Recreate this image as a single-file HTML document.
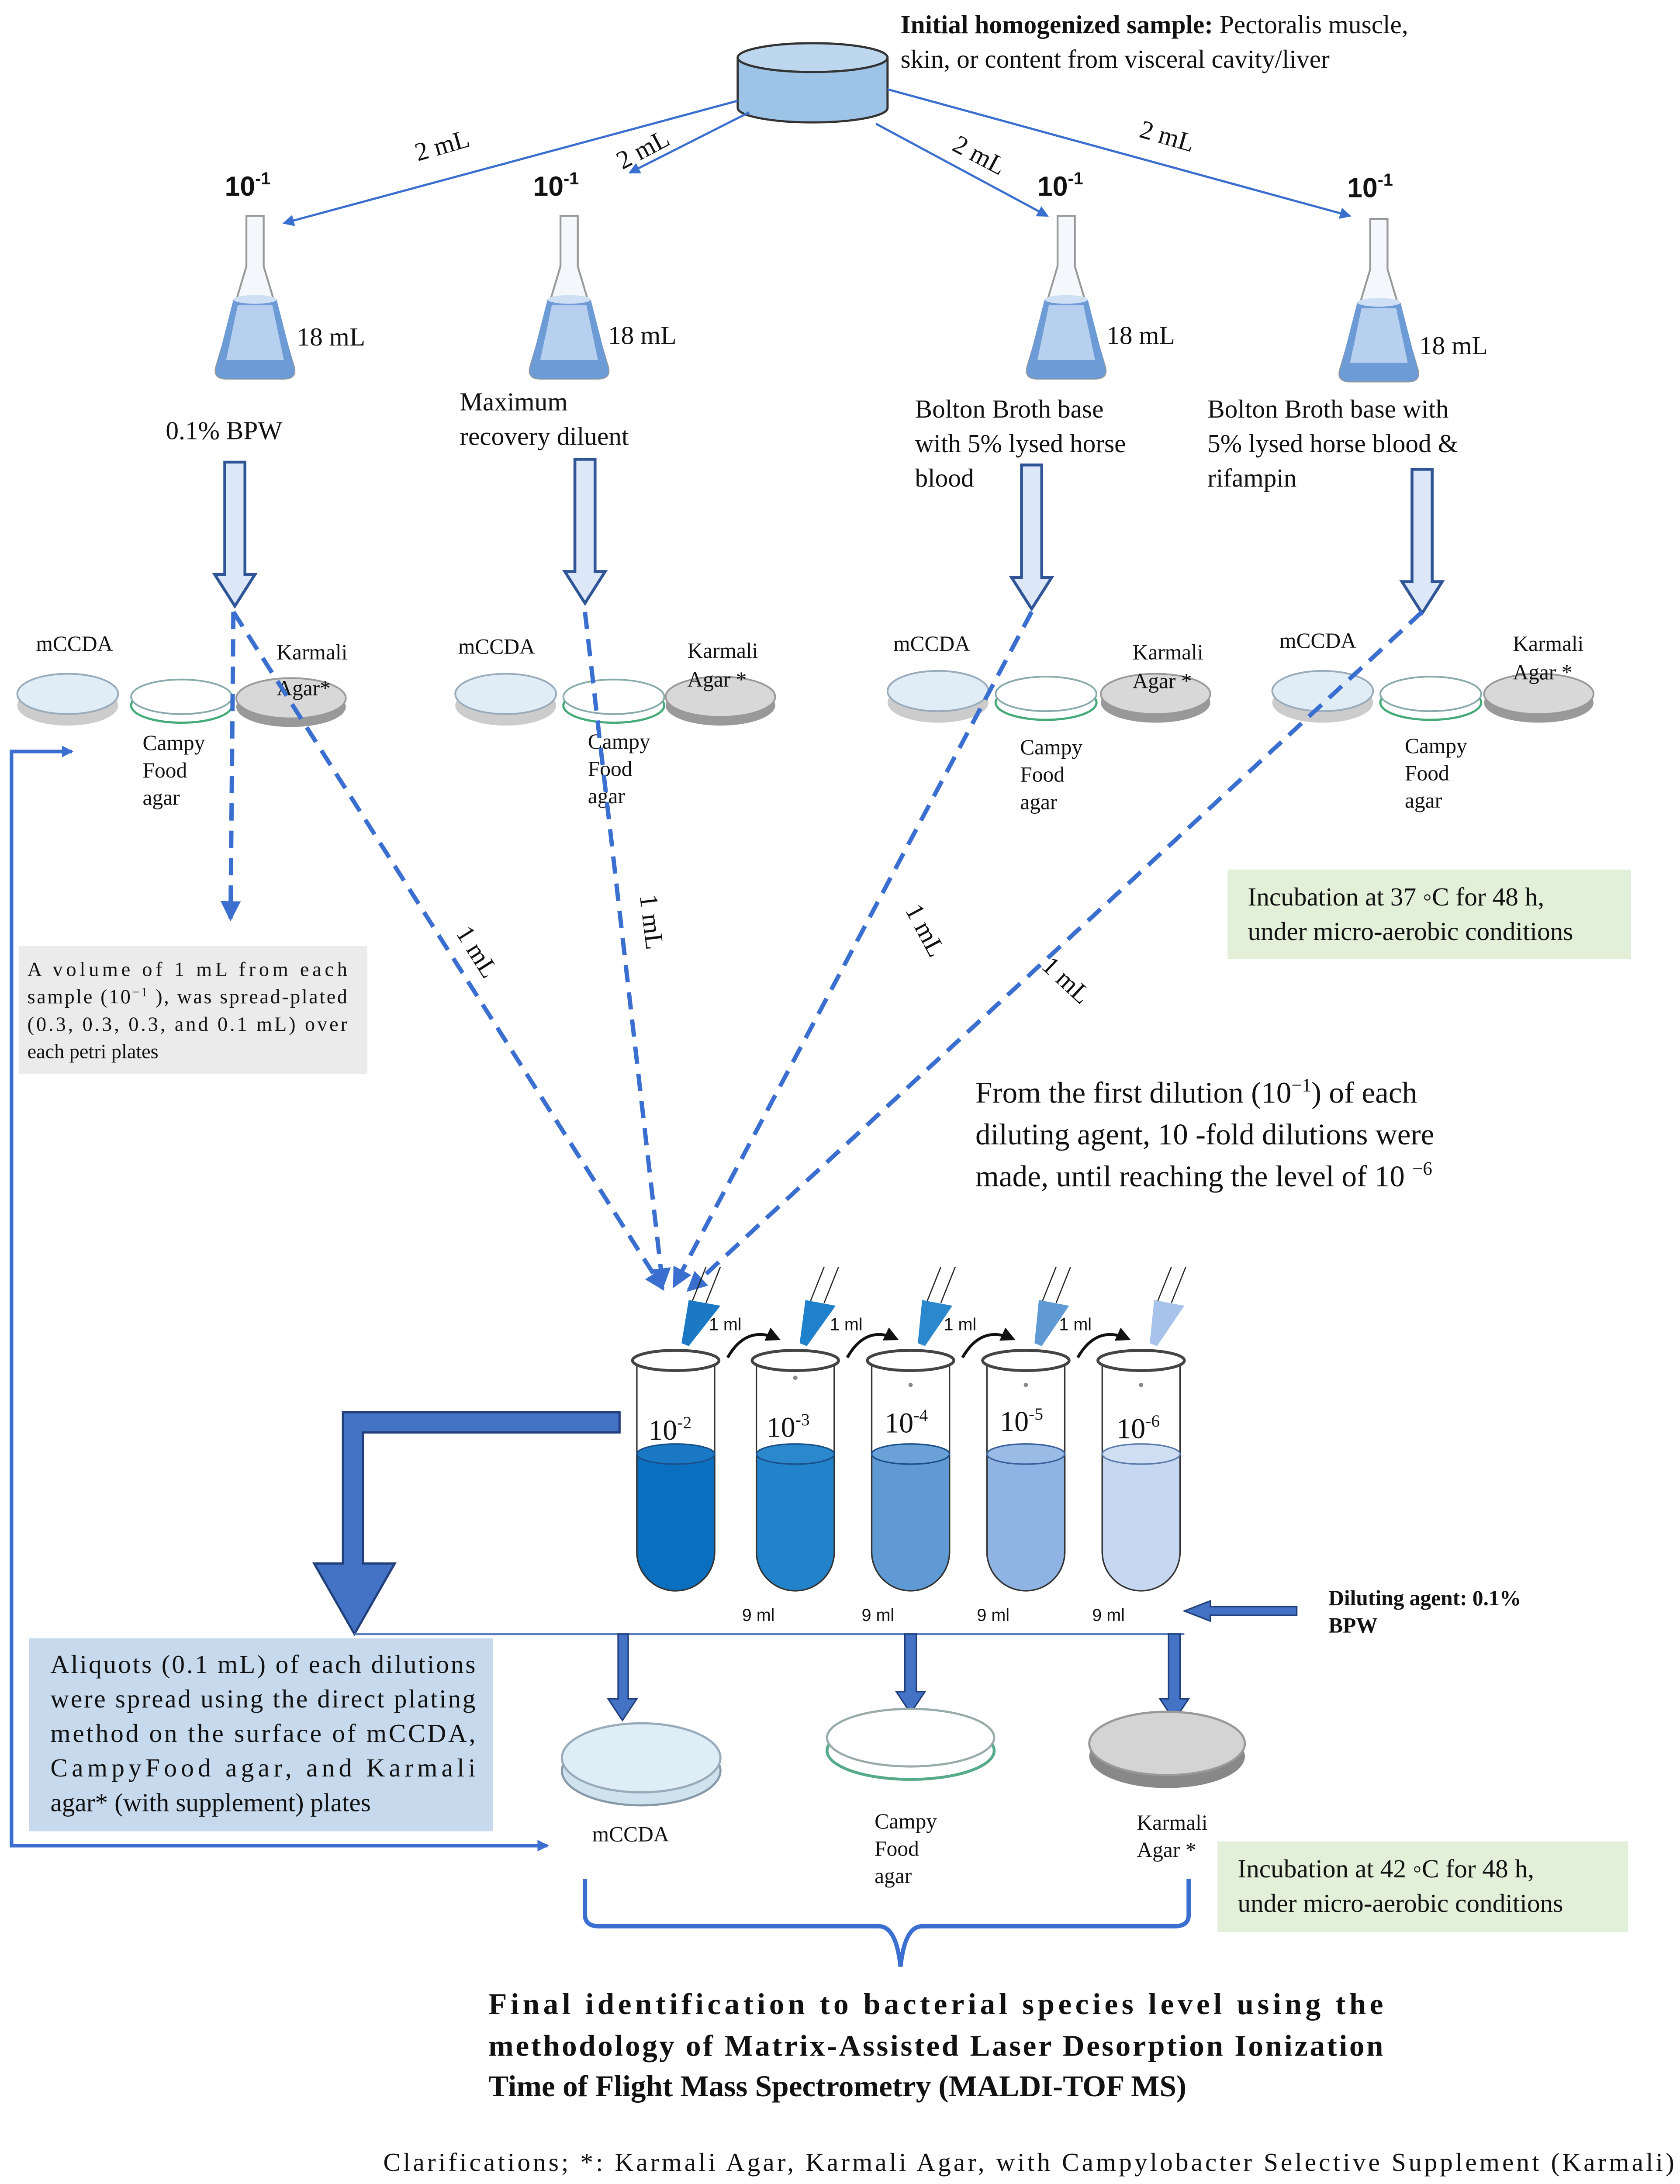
<!DOCTYPE html>
<html><head><meta charset="utf-8"><style>
html,body{margin:0;padding:0;background:#fff;width:3846px;height:5168px;overflow:hidden}
svg{display:block;position:absolute;left:0;top:0;width:3846px;height:5168px}
text{font-family:"Liberation Serif",serif;fill:#111}
.s{font-family:"Liberation Sans",sans-serif}
</style></head><body>
<svg width="3846" height="5168" viewBox="0 0 1166 1568" preserveAspectRatio="none" xmlns="http://www.w3.org/2000/svg">
<defs>
<marker id="ah" markerWidth="8" markerHeight="8" refX="7" refY="4" orient="auto" markerUnits="userSpaceOnUse"><path d="M0,0 L8,4 L0,8 z" fill="#3a6fd0"/></marker>
<marker id="ahb" markerWidth="14" markerHeight="14" refX="12" refY="7" orient="auto" markerUnits="userSpaceOnUse"><path d="M0,0 L14,7 L0,14 z" fill="#3a6fd0"/></marker>
<marker id="ahk" markerWidth="10" markerHeight="10" refX="8" refY="5" orient="auto" markerUnits="userSpaceOnUse"><path d="M0,0 L10,5 L0,10 z" fill="#111"/></marker>
<g id="flask">
<path d="M-6,0 L6,0 L6,35 L27,105 Q29,113 20,113 L-20,113 Q-29,113 -27,105 L-6,35 Z" fill="#f4f7fb" stroke="#999" stroke-width="1.3"/>
<path d="M-15,58 L15,58 L27,105 Q29,113 20,113 L-20,113 Q-29,113 -27,105 Z" fill="#6d9bd6"/>
<path d="M-12,62 L12,62 L20,100 L-20,100 Z" fill="#b8d0ef"/>
<ellipse cx="0" cy="58" rx="15" ry="3" fill="#cfe0f5"/>
</g>
<g id="dish"><ellipse cx="0" cy="8" rx="35" ry="14" fill="#ccc"/><ellipse cx="0" cy="0" rx="35" ry="14" fill="#e0edf6" stroke="#9ab" stroke-width="1.2"/></g>
<g id="dishc"><ellipse cx="0" cy="6" rx="35" ry="12" fill="#fff" stroke="#4a7" stroke-width="1.5"/><ellipse cx="0" cy="0" rx="35" ry="12" fill="#fff" stroke="#8aa" stroke-width="1.2"/></g>
<g id="dishg"><ellipse cx="0" cy="6" rx="38" ry="14" fill="#999"/><ellipse cx="0" cy="0" rx="38" ry="14" fill="#d8d8d8" stroke="#999" stroke-width="1.2"/></g>
<path id="hdown" d="M-7,0 L7,0 L7,78 L14,78 L0,100 L-14,78 L-7,78 Z" fill="#dce8f7" stroke="#2f5597" stroke-width="2"/>
</defs>

<path d="M512,40 L512,75 A52,10 0 0 0 616,75 L616,40" fill="#9dc3e6" stroke="#333" stroke-width="1.5"/>
<ellipse cx="564" cy="40" rx="52" ry="10" fill="#bdd7ee" stroke="#333" stroke-width="1.5"/>
<text x="625" y="23" font-size="18"><tspan font-weight="bold">Initial homogenized sample:</tspan> Pectoralis muscle,</text>
<text x="625" y="47" font-size="18">skin,  or  content  from  visceral cavity/liver</text>

<g stroke="#3a6fd0" stroke-width="1.5" fill="none" marker-end="url(#ah)">
<line x1="512" y1="70" x2="197" y2="155"/>
<line x1="520" y1="78" x2="437" y2="120"/>
<line x1="608" y1="86" x2="727" y2="150"/>
<line x1="616" y1="62" x2="937" y2="150"/>
</g>
<text x="290" y="112" font-size="18" transform="rotate(-16 290 112)">2 mL</text>
<text x="432" y="118" font-size="18" transform="rotate(-28 432 118)">2 mL</text>
<text x="660" y="104" font-size="18" transform="rotate(28 660 104)">2 mL</text>
<text x="790" y="95" font-size="18" transform="rotate(16 790 95)">2 mL</text>

<g font-size="19" font-weight="bold">
<text x="156" y="136" class="s">10<tspan font-size="12" dy="-8">-1</tspan></text>
<text x="370" y="136" class="s">10<tspan font-size="12" dy="-8">-1</tspan></text>
<text x="720" y="136" class="s">10<tspan font-size="12" dy="-8">-1</tspan></text>
<text x="935" y="137" class="s">10<tspan font-size="12" dy="-8">-1</tspan></text>
</g>

<use href="#flask" x="177" y="150"/>
<use href="#flask" x="395" y="150"/>
<use href="#flask" x="740" y="150"/>
<use href="#flask" x="957" y="152"/>
<g font-size="18">
<text x="206" y="240">18 mL</text><text x="422" y="239">18 mL</text>
<text x="768" y="239">18 mL</text><text x="985" y="246">18 mL</text>
<text x="115" y="305">0.1% BPW</text>
<text x="319" y="285">Maximum</text><text x="319" y="309">recovery diluent</text>
<text x="635" y="290">Bolton Broth base</text><text x="635" y="314">with 5% lysed horse</text><text x="635" y="338">blood</text>
<text x="838" y="290">Bolton Broth base with</text><text x="838" y="314">5% lysed horse blood &amp;</text><text x="838" y="338">rifampin</text>
</g>

<use href="#hdown" x="163" y="321"/>
<use href="#hdown" x="406" y="319"/>
<use href="#hdown" x="716" y="323"/>
<use href="#hdown" x="987" y="326"/>

<use href="#dish" x="47" y="482"/><use href="#dishc" x="126" y="484"/><use href="#dishg" x="202" y="485"/>
<use href="#dish" x="351" y="482"/><use href="#dishc" x="426" y="484"/><use href="#dishg" x="500" y="484"/>
<use href="#dish" x="651" y="480"/><use href="#dishc" x="726" y="482"/><use href="#dishg" x="802" y="482"/>
<use href="#dish" x="918" y="480"/><use href="#dishc" x="993" y="482"/><use href="#dishg" x="1068" y="482"/>
<g font-size="15">
<text x="25" y="452">mCCDA</text><text x="192" y="458">Karmali</text><text x="192" y="483">Agar*</text>
<text x="99" y="521">Campy</text><text x="99" y="540">Food</text><text x="99" y="559">agar</text>
<text x="318" y="454">mCCDA</text><text x="477" y="457">Karmali</text><text x="477" y="477">Agar *</text>
<text x="408" y="520">Campy</text><text x="408" y="539">Food</text><text x="408" y="558">agar</text>
<text x="620" y="452">mCCDA</text><text x="786" y="458">Karmali</text><text x="786" y="478">Agar *</text>
<text x="708" y="524">Campy</text><text x="708" y="543">Food</text><text x="708" y="562">agar</text>
<text x="888" y="450">mCCDA</text><text x="1050" y="452">Karmali</text><text x="1050" y="472">Agar *</text>
<text x="975" y="523">Campy</text><text x="975" y="542">Food</text><text x="975" y="561">agar</text>
</g>

<g stroke="#3a6fd0" stroke-width="3" fill="none" stroke-dasharray="12,7">
<line x1="162" y1="425" x2="160" y2="638" marker-end="url(#ahb)"/>
<line x1="162" y1="425" x2="460" y2="895" marker-end="url(#ahb)"/>
<line x1="406" y1="425" x2="460" y2="893" marker-end="url(#ahb)"/>
<line x1="716" y1="425" x2="468" y2="893" marker-end="url(#ahb)"/>
<line x1="987" y1="425" x2="478" y2="896" marker-end="url(#ahb)"/>
</g>
<g font-size="18">
<text x="316" y="648" transform="rotate(58 316 648)">1 mL</text>
<text x="444" y="622" transform="rotate(83 444 622)">1 mL</text>
<text x="628" y="632" transform="rotate(-118 628 632) rotate(180 628 632)">1 mL</text>
<text x="722" y="672" transform="rotate(-137 722 672) rotate(180 722 672)">1 mL</text>
</g>

<rect x="13" y="657" width="242" height="89" fill="#ebebeb"/>
<g font-size="14">
<text x="19" y="678" textLength="222">A  volume  of  1  mL  from  each</text>
<text x="19" y="697" textLength="222">sample  (10<tspan font-size="9" dy="-5">−1</tspan><tspan dy="5"> ),  was  spread-plated</tspan></text>
<text x="19" y="716" textLength="222">(0.3,  0.3,  0.3,  and  0.1  mL)  over</text>
<text x="19" y="735">each petri plates</text>
</g>

<rect x="852" y="604" width="280" height="62" fill="#e2efd9"/>
<text x="866" y="629" font-size="18">Incubation at 37 ◦C for 48 h,</text>
<text x="866" y="653" font-size="18">under micro-aerobic conditions</text>

<g font-size="21">
<text x="677" y="766">From the  first dilution (10<tspan font-size="13" dy="-8">−1</tspan><tspan dy="8">) of each</tspan></text>
<text x="677" y="795">diluting agent, 10 -fold dilutions were</text>
<text x="677" y="824">made, until reaching the level of 10 <tspan font-size="13" dy="-8">−6</tspan></text>
</g>

<g transform="translate(469,0)"><path d="M-27,945 L-27,1078 A27,27 0 0 0 27,1078 L27,945" fill="#fff" stroke="#333"/><path d="M-27,1010 L-27,1078 A27,27 0 0 0 27,1078 L27,1010 Z" fill="#0b6fbf" stroke="#333"/><ellipse cx="0" cy="1010" rx="27" ry="7" fill="#1a78c4" stroke="#1a4f8a"/><ellipse cx="0" cy="945" rx="30" ry="7" fill="#fff" stroke="#444" stroke-width="2"/></g>
<g transform="translate(552,0)"><path d="M-27,945 L-27,1078 A27,27 0 0 0 27,1078 L27,945" fill="#fff" stroke="#333"/><path d="M-27,1010 L-27,1078 A27,27 0 0 0 27,1078 L27,1010 Z" fill="#2383ca" stroke="#333"/><ellipse cx="0" cy="1010" rx="27" ry="7" fill="#2b88cd" stroke="#1a4f8a"/><ellipse cx="0" cy="945" rx="30" ry="7" fill="#fff" stroke="#444" stroke-width="2"/></g>
<g transform="translate(632,0)"><path d="M-27,945 L-27,1078 A27,27 0 0 0 27,1078 L27,945" fill="#fff" stroke="#333"/><path d="M-27,1010 L-27,1078 A27,27 0 0 0 27,1078 L27,1010 Z" fill="#5f9ad5" stroke="#333"/><ellipse cx="0" cy="1010" rx="27" ry="7" fill="#6aa2d8" stroke="#1a4f8a"/><ellipse cx="0" cy="945" rx="30" ry="7" fill="#fff" stroke="#444" stroke-width="2"/></g>
<g transform="translate(712,0)"><path d="M-27,945 L-27,1078 A27,27 0 0 0 27,1078 L27,945" fill="#fff" stroke="#333"/><path d="M-27,1010 L-27,1078 A27,27 0 0 0 27,1078 L27,1010 Z" fill="#8fb4e3" stroke="#333"/><ellipse cx="0" cy="1010" rx="27" ry="7" fill="#9abbe6" stroke="#3a5f9a"/><ellipse cx="0" cy="945" rx="30" ry="7" fill="#fff" stroke="#444" stroke-width="2"/></g>
<g transform="translate(792,0)"><path d="M-27,945 L-27,1078 A27,27 0 0 0 27,1078 L27,945" fill="#fff" stroke="#333"/><path d="M-27,1010 L-27,1078 A27,27 0 0 0 27,1078 L27,1010 Z" fill="#c6d8f1" stroke="#333"/><ellipse cx="0" cy="1010" rx="27" ry="7" fill="#d0def3" stroke="#5a7aaa"/><ellipse cx="0" cy="945" rx="30" ry="7" fill="#fff" stroke="#444" stroke-width="2"/></g>
<g font-size="20">
<text x="450" y="1000">10<tspan font-size="12" dy="-8">-2</tspan></text>
<text x="532" y="998">10<tspan font-size="12" dy="-8">-3</tspan></text>
<text x="614" y="995">10<tspan font-size="12" dy="-8">-4</tspan></text>
<text x="694" y="994">10<tspan font-size="12" dy="-8">-5</tspan></text>
<text x="775" y="999">10<tspan font-size="12" dy="-8">-6</tspan></text>
</g>
<g stroke="#222" stroke-width="0.8">
<line x1="490" y1="880" x2="480" y2="905"/><line x1="500" y1="880" x2="490" y2="905"/>
<line x1="572" y1="880" x2="562" y2="905"/><line x1="582" y1="880" x2="572" y2="905"/>
<line x1="653" y1="880" x2="643" y2="905"/><line x1="663" y1="880" x2="653" y2="905"/>
<line x1="733" y1="880" x2="723" y2="905"/><line x1="743" y1="880" x2="733" y2="905"/>
<line x1="813" y1="880" x2="803" y2="905"/><line x1="823" y1="880" x2="813" y2="905"/>
</g>
<path d="M478,903 L500,907 L478,935 L473,933 Z" fill="#1a78c4"/>
<path d="M559,903 L580,907 L560,935 L555,933 Z" fill="#1f80cc"/>
<path d="M640,903 L661,907 L642,935 L637,933 Z" fill="#2b88cd"/>
<path d="M721,903 L742,907 L723,935 L718,933 Z" fill="#5f9ad5"/>
<path d="M801,903 L822,907 L803,935 L798,933 Z" fill="#a7c3eb"/>
<g stroke="#111" stroke-width="2" fill="none" marker-end="url(#ahk)">
<path d="M505,943 Q518,920 540,930"/>
<path d="M588,943 Q601,920 622,930"/>
<path d="M668,943 Q681,920 703,930"/>
<path d="M748,943 Q761,920 783,930"/>
</g>
<g font-size="12">
<text x="492" y="924" class="s">1 ml</text><text x="576" y="924" class="s">1 ml</text>
<text x="655" y="924" class="s">1 ml</text><text x="735" y="924" class="s">1 ml</text>
<text x="515" y="1126" class="s">9 ml</text><text x="598" y="1126" class="s">9 ml</text>
<text x="678" y="1126" class="s">9 ml</text><text x="758" y="1126" class="s">9 ml</text>
</g>
<g fill="#888"><circle cx="552" cy="957" r="1.5"/><circle cx="632" cy="962" r="1.5"/><circle cx="712" cy="962" r="1.5"/><circle cx="792" cy="962" r="1.5"/></g>

<path d="M430,981 L238,981 L238,1086 L218,1086 L246,1135 L274,1086 L252,1086 L252,995 L430,995 Z" fill="#4472c4" stroke="#1f3e7a" stroke-width="1.5"/>
<line x1="246" y1="1135" x2="822" y2="1135" stroke="#5b7fc0" stroke-width="1.5"/>
<path d="M900,1116 L840,1116 L840,1112 L822,1119 L840,1126 L840,1122 L900,1122 Z" fill="#4472c4" stroke="#1f3e7a"/>
<text x="922" y="1115" font-size="15" font-weight="bold">Diluting agent: 0.1%</text>
<text x="922" y="1134" font-size="15" font-weight="bold">BPW</text>

<rect x="20" y="1138" width="322" height="134" fill="#c7d9ed"/>
<g font-size="18">
<text x="35" y="1162" textLength="295">Aliquots (0.1 mL) of each dilutions</text>
<text x="35" y="1186" textLength="295">were spread using the direct plating</text>
<text x="35" y="1210" textLength="295">method on the surface of mCCDA,</text>
<text x="35" y="1234" textLength="295">CampyFood   agar,   and   Karmali</text>
<text x="35" y="1258">agar* (with supplement) plates</text>
</g>

<g fill="#4472c4" stroke="#1f3e7a">
<path d="M429,1135 L436,1135 L436,1180 L442,1180 L432,1195 L422,1180 L429,1180 Z"/>
<path d="M628,1135 L636,1135 L636,1175 L642,1175 L632,1190 L622,1175 L628,1175 Z"/>
<path d="M811,1135 L819,1135 L819,1180 L825,1180 L815,1195 L805,1180 L811,1180 Z"/>
</g>
<ellipse cx="445" cy="1230" rx="55" ry="24" fill="#cfe3ee" stroke="#89a" stroke-width="1.5"/>
<ellipse cx="445" cy="1221" rx="55" ry="24" fill="#dfeef6" stroke="#9ab" stroke-width="1.5"/>
<ellipse cx="632" cy="1216" rx="58" ry="20" fill="#fff" stroke="#5a8" stroke-width="2"/>
<ellipse cx="632" cy="1207" rx="58" ry="20" fill="#fff" stroke="#9aa" stroke-width="1.5"/>
<ellipse cx="810" cy="1220" rx="54" ry="22" fill="#888"/>
<ellipse cx="810" cy="1211" rx="54" ry="22" fill="#d4d4d4" stroke="#999" stroke-width="1.5"/>
<g font-size="15">
<text x="411" y="1279">mCCDA</text>
<text x="607" y="1270">Campy</text><text x="607" y="1289">Food</text><text x="607" y="1308">agar</text>
<text x="789" y="1271">Karmali</text><text x="789" y="1290">Agar *</text>
</g>

<polyline points="378,1282 8,1282 8,522 50,522" fill="none" stroke="#3a6fd0" stroke-width="2.5" marker-end="url(#ah)"/>
<line x1="360" y1="1282" x2="380" y2="1282" stroke="#3a6fd0" stroke-width="2.5" marker-end="url(#ah)"/>

<path d="M406,1305 L406,1330 Q406,1338 416,1338 L610,1338 Q622,1338 625,1366 Q628,1338 640,1338 L815,1338 Q825,1338 825,1330 L825,1305" fill="none" stroke="#3a6fd0" stroke-width="3"/>

<rect x="845" y="1279" width="285" height="63" fill="#e2efd9"/>
<text x="859" y="1304" font-size="18">Incubation at 42 ◦C for 48 h,</text>
<text x="859" y="1328" font-size="18">under micro-aerobic conditions</text>

<g font-size="21" font-weight="bold">
<text x="339" y="1399" textLength="621">Final   identification   to   bacterial   species   level   using   the</text>
<text x="339" y="1428" textLength="621">methodology of Matrix-Assisted Laser Desorption Ionization</text>
<text x="339" y="1456">Time of Flight  Mass Spectrometry (MALDI-TOF MS)</text>
</g>
<g font-size="18">
<text x="266" y="1508" textLength="896">Clarifications; *: Karmali Agar, Karmali Agar, with Campylobacter Selective Supplement (Karmali)</text>
<text x="266" y="1532" textLength="896">SR0167; mCCA, modified charcoal cefoperazone deoxycholate agar; BPW, 0.1% buffered peptone</text>
<text x="266" y="1556">water.</text>
</g>
</svg>
</body></html>
